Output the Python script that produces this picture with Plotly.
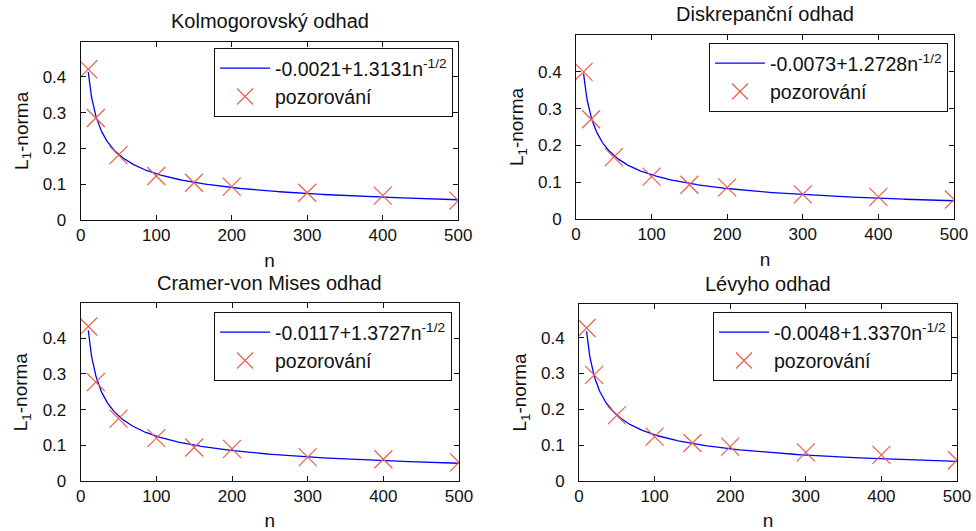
import numpy as np
import plotly.graph_objects as go

# ---- data ----
n_obs = [10, 20, 50, 100, 150, 200, 300, 400, 500]
titles = ["Kolmogorovský odhad", "Diskrepanční odhad", "Cramer-von Mises odhad", "Lévyho odhad"]
kolmogorov = [0.421, 0.285, 0.181, 0.123, 0.104, 0.093, 0.076, 0.068, 0.054]
diskrepancni = [0.400, 0.271, 0.168, 0.115, 0.093, 0.086, 0.067, 0.060, 0.053]
cramer = [0.433, 0.277, 0.175, 0.120, 0.094, 0.090, 0.067, 0.061, 0.052]
levy = [0.427, 0.296, 0.183, 0.124, 0.106, 0.096, 0.080, 0.073, 0.058]
fit_a = [-0.0021, -0.0073, -0.0117, -0.0048]
fit_b = [1.3131, 1.2728, 1.3727, 1.3370]
fit_labels = ["-0.0021+1.3131n<sup>-1/2</sup>", "-0.0073+1.2728n<sup>-1/2</sup>",
              "-0.0117+1.3727n<sup>-1/2</sup>", "-0.0048+1.3370n<sup>-1/2</sup>"]
obs_label = "pozorování"
series = [kolmogorov, diskrepancni, cramer, levy]
x_ticks = [0, 100, 200, 300, 400, 500]
y_ticks = [0, 0.1, 0.2, 0.3, 0.4]

W, H = 976, 531
# panel boxes in pixels: left, right, top, bottom
boxes = [(80.7, 458.3, 41.7, 220), (576, 954, 35, 219),
         (80.7, 459, 303.3, 481), (579, 957, 304, 481)]
ymaxes = [0.498, 0.5, 0.498, 0.494]
legend_pos = [(453, 48), (948, 43), (452, 312), (952, 312)]
title_y = [21, 14, 283, 284]

FONT = "Liberation Sans, Arial, sans-serif"
fig = go.Figure()
layout = dict(width=W, height=H, margin=dict(l=0, r=0, t=0, b=0, autoexpand=False),
              paper_bgcolor="white", plot_bgcolor="white", showlegend=True,
              font=dict(family=FONT, size=19, color="#111"))
annotations = []
n_fit = np.arange(10, 501)
for i in range(4):
    k = "" if i == 0 else str(i + 1)
    leg = "legend" if i == 0 else "legend" + str(i + 1)
    l, r, t, b = boxes[i]
    y_fit = fit_a[i] + fit_b[i] / np.sqrt(n_fit)
    fig.add_trace(go.Scatter(x=n_fit, y=y_fit, mode="lines", name=fit_labels[i],
                             line=dict(color="rgb(0,0,255)", width=1.3),
                             xaxis="x" + k, yaxis="y" + k, legend=leg))
    fig.add_trace(go.Scatter(x=n_obs, y=series[i], mode="markers", name=obs_label,
                             marker=dict(symbol="x-thin", size=18,
                                         line=dict(color="rgb(236,94,70)", width=1.2)),
                             xaxis="x" + k, yaxis="y" + k, legend=leg))
    layout["xaxis" + k] = dict(domain=[l / W, r / W], range=[0, 500], anchor="y" + k,
                               tickvals=x_ticks, ticks="inside", ticklen=5, tickcolor="#111",
                               showline=True, linecolor="#111", linewidth=1, mirror="ticks",
                               showgrid=False, zeroline=False, automargin=False,
                               tickfont=dict(size=17), title=dict(text="n", font=dict(size=19), standoff=9))
    layout["yaxis" + k] = dict(domain=[1 - b / H, 1 - t / H], range=[0, ymaxes[i]], anchor="x" + k,
                               tickvals=y_ticks, ticktext=["0", "0.1", "0.2", "0.3", "0.4"],
                               ticks="inside", ticklen=5, tickcolor="#111",
                               showline=True, linecolor="#111", linewidth=1, mirror="ticks",
                               showgrid=False, zeroline=False, ticklabelstandoff=10, automargin=False,
                               tickfont=dict(size=17),
                               title=dict(text="L<sub>1</sub>-norma", font=dict(size=19), standoff=9))
    lx, ly = legend_pos[i]
    layout[leg] = dict(x=lx / W, y=1 - ly / H, xanchor="right", yanchor="top",
                       bordercolor="#111", borderwidth=1, bgcolor="white",
                       font=dict(size=19.5), tracegroupgap=0, itemwidth=50)
    annotations.append(dict(text=titles[i], x=(l + r) / 2 / W, y=1 - title_y[i] / H,
                            xref="paper", yref="paper", showarrow=False,
                            xanchor="center", yanchor="middle", font=dict(size=20)))
layout["annotations"] = annotations
fig.update_layout(**layout)
fig.write_html("out.html", config={"displayModeBar": False},
               post_script="document.body.style.margin='0px';document.body.style.overflow='hidden';")
